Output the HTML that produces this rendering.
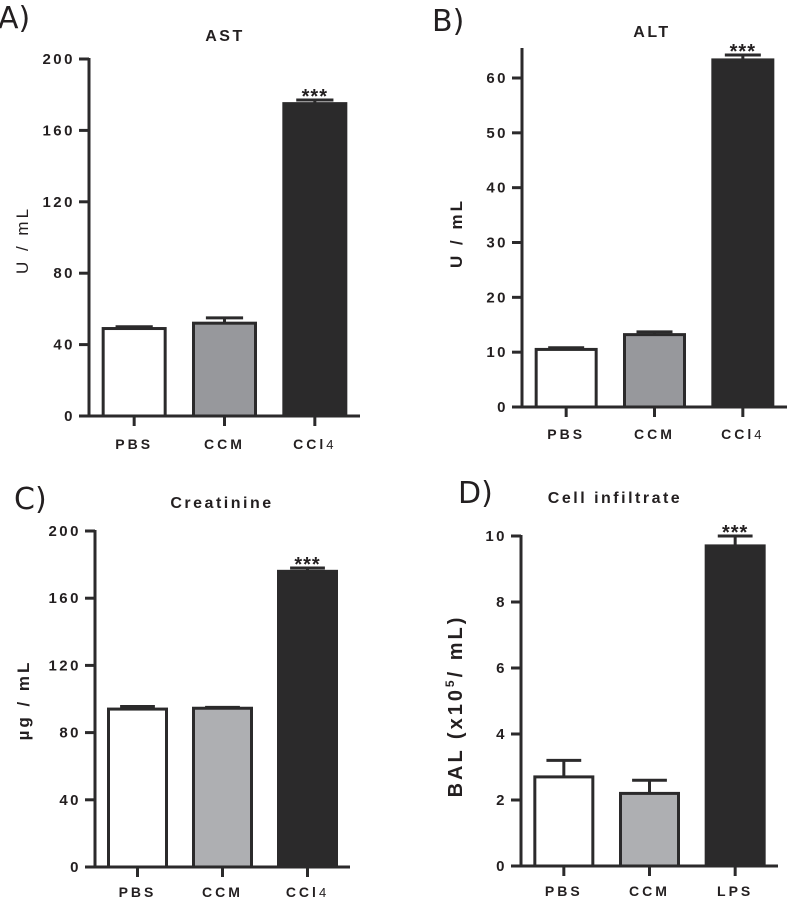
<!DOCTYPE html>
<html><head><meta charset="utf-8"><style>
html,body{margin:0;padding:0;background:#fff;width:787px;height:900px;overflow:hidden}
svg{display:block}
text{font-family:"Liberation Sans",sans-serif;fill:#231f20}
</style></head><body>
<svg id="fig" width="787" height="900" viewBox="0 0 787 900" xmlns="http://www.w3.org/2000/svg"></svg>
<script>
const categoriesA = ["PBS","CCM","CCl4"];
const valuesA = [49, 52, 175];
const errorsA = [50, 55, 177];
const ticksA = [0,40,80,120,160,200];

const categoriesB = ["PBS","CCM","CCl4"];
const valuesB = [10.5, 13.2, 63.3];
const errorsB = [10.8, 13.7, 64.2];
const ticksB = [0,10,20,30,40,50,60];

const categoriesC = ["PBS","CCM","CCl4"];
const valuesC = [94, 94.5, 176];
const errorsC = [95.5, 95, 178];
const ticksC = [0,40,80,120,160,200];

const categoriesD = ["PBS","CCM","LPS"];
const valuesD = [2.7, 2.2, 9.7];
const errorsD = [3.2, 2.6, 10.0];
const ticksD = [0,2,4,6,8,10];

const NS = "http://www.w3.org/2000/svg";
const svg = document.getElementById("fig");
function mk(tag, attrs, parent, txt){
  const e = document.createElementNS(NS, tag);
  for (const k in attrs) e.setAttribute(k, attrs[k]);
  if (txt !== undefined) e.textContent = txt;
  (parent||svg).appendChild(e);
  return e;
}
const INK = "#2b2a2b";

function panel(p){
  const g = mk("g", {});
  
  
  const y = v => p.y0 - (v - p.min) / (p.max - p.min) * (p.y0 - p.yMax);
  const n = p.cats.length;
  const slot = (p.xEnd - p.ax) / n;
  const bx = i => p.ax + slot * (i + 0.5);
  const L = mk("text", {x:p.letterX, y:p.letterY, "font-size":30, style:"font-family:'DejaVu Sans',sans-serif"}, g, p.letter);
  
  
  const T = mk("text", {x:p.titleX, y:p.titleY, "font-size":16, "font-weight":"bold", "text-anchor":"middle", "letter-spacing":"2.5"}, g, p.title);
  
  
  p.vals.forEach((v,i)=>{
    const cx = bx(i);
    const ey = y(p.errs[i]);
    const e1 = mk("line", {x1:cx, x2:cx, y1:y(v), y2:ey, stroke:INK, "stroke-width":3}, g);
    
    
    const e2 = mk("line", {x1:cx-p.bw*0.3, x2:cx+p.bw*0.3, y1:ey, y2:ey, stroke:INK, "stroke-width":3}, g);
    
    
    const r = mk("rect", {x:cx-p.bw/2, y:y(v), width:p.bw, height:p.y0-y(v), fill:p.fills[i], stroke:INK, "stroke-width":3}, g);
    
    
    const t = mk("line", {x1:cx, x2:cx, y1:p.y0, y2:p.y0+10, stroke:INK, "stroke-width":3}, g);
    
    
    const lab = mk("text", {x:cx, y:p.y0+p.labOff, "font-size":14, "font-weight":"bold", "text-anchor":"middle", "letter-spacing":"3"}, g);
    
    
    if (p.cats[i] === "CCl4") {
      lab.textContent = "CCl";
      mk("tspan", {"font-size":13, "font-weight":"normal"}, lab, "4");
    } else lab.textContent = p.cats[i];
    if (i === n-1) {
      const st = mk("text", {x:cx, y:ey+3, "font-size":20, "font-weight":"bold", "text-anchor":"middle", "letter-spacing":"1"}, g, "***");
      
      
    }
  });
  const ya = mk("line", {x1:p.ax, x2:p.ax, y1:p.axTop, y2:p.y0+1.5, stroke:INK, "stroke-width":3}, g);
  
  
  const xa = mk("line", {x1:p.ax-10, x2:p.xEnd, y1:p.y0, y2:p.y0, stroke:INK, "stroke-width":3}, g);
  
  
  p.ticks.forEach(v=>{
    const tk = mk("line", {x1:p.ax-10, x2:p.ax, y1:y(v), y2:y(v), stroke:INK, "stroke-width":3}, g);
    
    
    const tl = mk("text", {x:p.ax-14, y:y(v)+5, "font-size":15, "font-weight":"bold", "text-anchor":"end", "letter-spacing":"2.5"}, g, String(v));
    
    
  });
  const yt = mk("text", {x:0, y:0, "font-size":p.ytSize, "font-weight":p.ytWeight, "text-anchor":"middle", "letter-spacing":"3",
    transform:`translate(${p.ytX},${p.ytY}) rotate(-90)`}, g);
  
  
  if (p.id === "d") {
    yt.textContent = "BAL (x10";
    mk("tspan", {dy:-8, "font-size":12}, yt, "5");
    mk("tspan", {dy:8}, yt, "/ mL)");
  } else yt.textContent = p.ytitle;
}

panel({id:"a", letter:"A)", letterX:-2, letterY:28, title:"AST", titleX:225, titleY:41,
  cats:categoriesA, vals:valuesA, errs:errorsA, ticks:ticksA, min:0, max:200,
  ax:89, y0:416, yMax:59, axTop:58, xEnd:360, bw:62, fills:["#ffffff","#97989c",INK], labOff:33,
  ytitle:"U / mL", ytX:28, ytY:240, ytSize:17, ytWeight:"normal"});
panel({id:"b", letter:"B)", letterX:432, letterY:31, title:"ALT", titleX:652, titleY:37,
  cats:categoriesB, vals:valuesB, errs:errorsB, ticks:ticksB, min:0, max:60,
  ax:522, y0:407, yMax:78, axTop:48, xEnd:787, bw:60, fills:["#ffffff","#97989c",INK], labOff:32,
  ytitle:"U / mL", ytX:462, ytY:233, ytSize:17, ytWeight:"bold"});
panel({id:"c", letter:"C)", letterX:14, letterY:509, title:"Creatinine", titleX:222, titleY:508,
  cats:categoriesC, vals:valuesC, errs:errorsC, ticks:ticksC, min:0, max:200,
  ax:95, y0:867, yMax:531, axTop:530, xEnd:350, bw:58, fills:["#ffffff","#aeafb2",INK], labOff:30,
  ytitle:"µg / mL", ytX:29, ytY:700, ytSize:17, ytWeight:"bold"});
panel({id:"d", letter:"D)", letterX:458, letterY:503, title:"Cell infiltrate", titleX:615, titleY:503,
  cats:categoriesD, vals:valuesD, errs:errorsD, ticks:ticksD, min:0, max:10,
  ax:521, y0:866, yMax:536, axTop:535, xEnd:778, bw:58, fills:["#ffffff","#aeafb2",INK], labOff:30,
  ytitle:"", ytX:462, ytY:706, ytSize:20, ytWeight:"bold"});
</script>
</body></html>
